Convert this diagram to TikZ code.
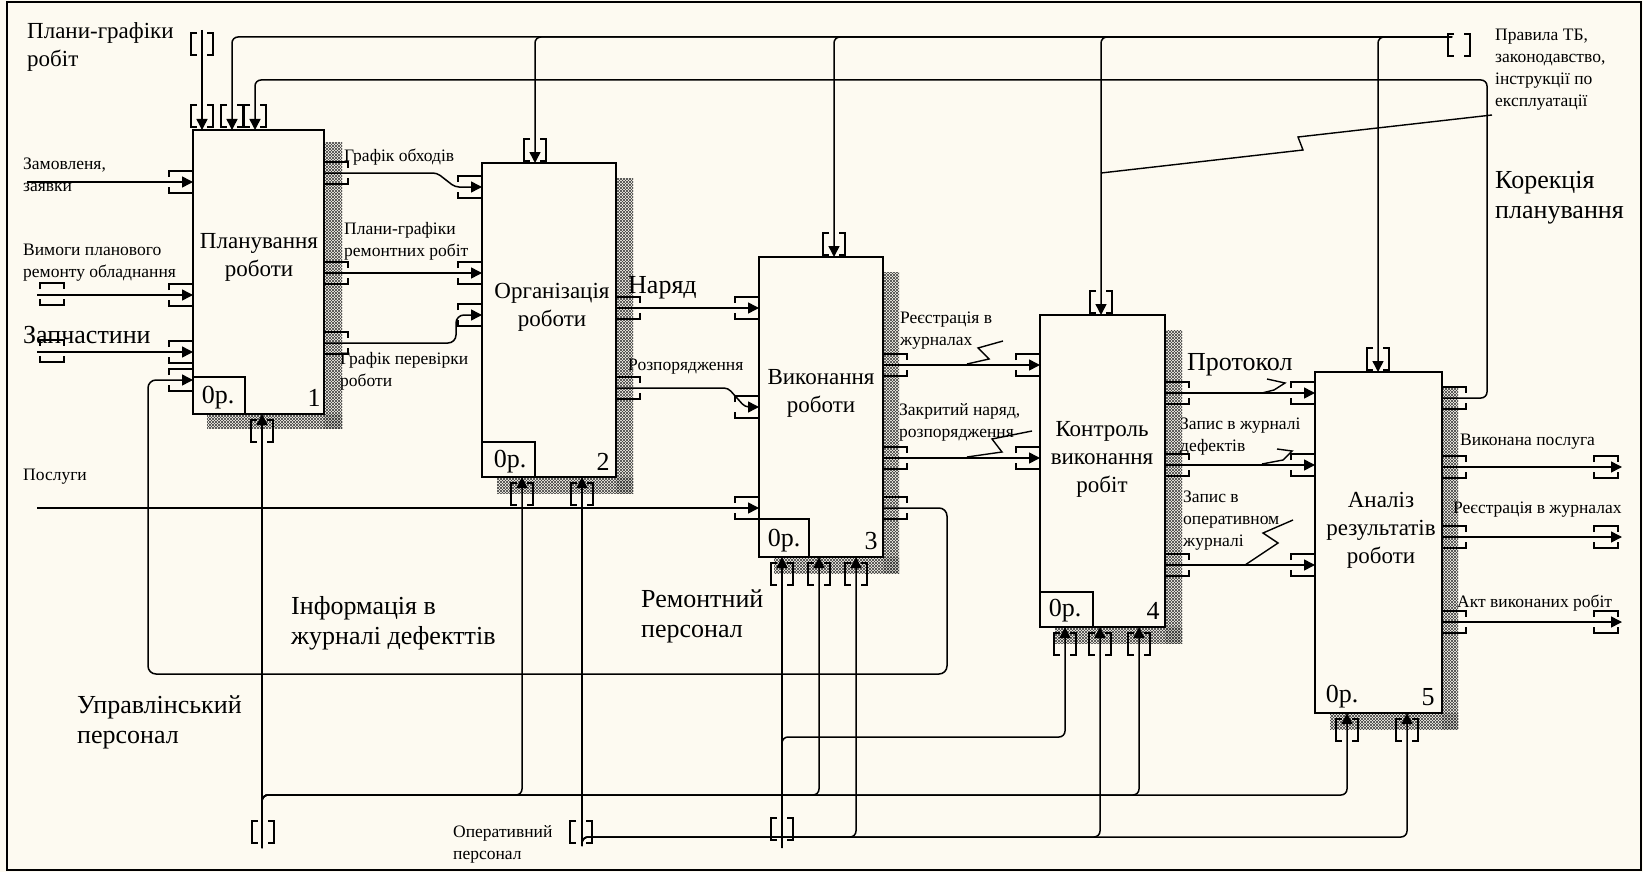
\documentclass[tikz,border=0pt]{standalone}
\usepackage{fontspec}
\setmainfont{Liberation Serif}
\usetikzlibrary{arrows.meta,patterns}
\definecolor{bg}{HTML}{FDFAF1}
\newcommand{\fsS}{\fontsize{17.5}{22}\selectfont}
\newcommand{\fsM}{\fontsize{23}{28}\selectfont}
\newcommand{\fsL}{\fontsize{26}{30}\selectfont}
\begin{document}
\begin{tikzpicture}[x=1pt,y=-1pt,
  box/.style={draw,line width=2.6pt,fill=bg,inner sep=0,outer sep=0,anchor=north west},
  idbox/.style={line width=1.3pt},
  shadowfill/.style={pattern=north east lines,pattern color=black!75,
    postaction={pattern=north west lines,pattern color=black!75}},
  conn/.style={line width=1.5pt,rounded corners=6pt,-{Triangle[length=11pt,width=11pt]}},
  wire/.style={line width=1.5pt,rounded corners=6pt},
  brk/.style={line width=1.4pt},
  lead/.style={line width=1.4pt},
  lbS/.style={font=\fsS,inner sep=0,align=left,anchor=west},
  lbL/.style={font=\fsL,inner sep=0,align=left,anchor=west},
  lbM/.style={font=\fsM,inner sep=0,align=left,anchor=west},
  boxlbl/.style={font=\fsM,inner sep=0,align=center},
  numlbl/.style={font=\fsL,inner sep=0},
  brH/.pic={\draw[brk] (-12,-5) -- (-12,-11) -- (12,-11) -- (12,-5);
            \draw[brk] (-12,5) -- (-12,11) -- (12,11) -- (12,5);},
  brV/.pic={\draw[brk] (-5,-11) -- (-11,-11) -- (-11,11) -- (-5,11);
            \draw[brk] (5,-11) -- (11,-11) -- (11,11) -- (5,11);}
]
\useasboundingbox (0,0) rectangle (1643,872);
\fill[bg] (0,0) rectangle (1643,872);
\draw[line width=1.5pt] (7,2) rectangle (1641,870);

% shadows
\fill[shadowfill] (324,143) rectangle (342,428);
\fill[shadowfill] (207,414) rectangle (342,428);
\fill[shadowfill] (616,178) rectangle (633,493);
\fill[shadowfill] (497,477) rectangle (633,493);
\fill[shadowfill] (883,272) rectangle (899,573);
\fill[shadowfill] (774,557) rectangle (899,573);
\fill[shadowfill] (1165,330) rectangle (1182,643);
\fill[shadowfill] (1055,627) rectangle (1182,643);
\fill[shadowfill] (1442,388) rectangle (1458,729);
\fill[shadowfill] (1330,713) rectangle (1458,729);

% boxes
\node[box,minimum width=131pt,minimum height=284pt] (b1) at (193,130) {};
\node[box,minimum width=134pt,minimum height=314pt] (b2) at (482,163) {};
\node[box,minimum width=124pt,minimum height=300pt] (b3) at (759,257) {};
\node[box,minimum width=125pt,minimum height=312pt] (b4) at (1040,315) {};
\node[box,minimum width=127pt,minimum height=341pt] (b5) at (1315,372) {};
\draw[idbox] (b1.south west) rectangle (245,377);
\draw[idbox] (b2.south west) rectangle (535,442);
\draw[idbox] (b3.south west) rectangle (809,519);
\draw[idbox] (b4.south west) rectangle (1093,592);

\node[boxlbl] (t1) at (259,257) {Планування\\роботи};
\node[boxlbl] (t2) at (552,307) {Організація\\роботи};
\node[boxlbl] (t3) at (821,393) {Виконання\\роботи};
\node[boxlbl] (t4) at (1102,459) {Контроль\\виконання\\робіт};
\node[boxlbl] (t5) at (1381,530) {Аналіз\\результатів\\роботи};

\node[numlbl] (o1) at (218,398) {0р.};
\node[numlbl] (n1) at (314,398) {1};
\node[numlbl] (o2) at (510,462) {0р.};
\node[numlbl] (n2) at (603,462) {2};
\node[numlbl] (o3) at (784,541) {0р.};
\node[numlbl] (n3) at (871,541) {3};
\node[numlbl] (o4) at (1065,611) {0р.};
\node[numlbl] (n4) at (1153,611) {4};
\node[numlbl] (o5) at (1342,697) {0р.};
\node[numlbl] (n5) at (1428,697) {5};

% labels
\node[lbM] (lPlan) at (27,47) {Плани-графіки\\робіт};
\node[lbS] (lZam) at (23,175) {Замовленя,\\заявки};
\node[lbS] (lVym) at (23,263) {Вимоги планового\\ремонту обладнання};
\node[lbL] (lZap) at (23,335) {Запчастини};
\node[lbS] (lPos) at (23,477) {Послуги};
\node[lbS] (lGO) at (344,157) {Графік обходів};
\node[lbS] (lPGR) at (344,241) {Плани-графіки\\ремонтних робіт};
\node[lbS] (lGP) at (340,371) {Графік перевірки\\роботи};
\node[lbL] (lNar) at (628,288) {Наряд};
\node[lbS] (lRoz) at (628,367) {Розпорядження};
\node[lbS] (lReg) at (900,331) {Реєстрація в\\журналах};
\node[lbS] (lZak) at (899,422) {Закритий наряд,\\розпорядження};
\node[lbL] (lProt) at (1187,365) {Протокол};
\node[lbS] (lZD) at (1180,437) {Запис в журналі\\дефектів};
\node[lbS] (lZO) at (1183,521) {Запис в\\оперативном\\журналі};
\node[lbS] (lVyk) at (1460,442) {Виконана послуга};
\node[lbS] (lReg2) at (1453,510) {Реєстрація в журналах};
\node[lbS] (lAkt) at (1457,603) {Акт виконаних робіт};
\node[lbS] (lPrav) at (1495,70) {Правила ТБ,\\законодавство,\\інструкції по\\експлуатації};
\node[lbL] (lKor) at (1495,198) {Корекція\\планування};
\node[lbL] (lInf) at (291,623) {Інформація в\\журналі дефекттів};
\node[lbL] (lUpr) at (77,722) {Управлінський\\персонал};
\node[lbL] (lRem) at (641,616) {Ремонтний\\персонал};
\node[lbS] (lOper) at (453,844) {Оперативний\\персонал};

% free ends
\coordinate (sPlan) at (202,30);
\coordinate (sRule) at (1452,37);
\coordinate (sZam) at (27,182);
\coordinate (sVym) at (37,295);
\coordinate (sZap) at (37,352);
\coordinate (sPos) at (37,508);
\coordinate (sUpr) at (262,848);
\coordinate (sOper) at (582,846);
\coordinate (sRem) at (782,848);
\coordinate (oVyk) at (1622,467);
\coordinate (oReg) at (1622,537);
\coordinate (oAkt) at (1622,622);

% controls
\draw[conn] (sPlan) -- (sPlan |- b1.north);
\draw[conn] (sRule) -| (232,0 |- b1.north);
\draw[conn] (sRule) -| (535,0 |- b2.north);
\draw[conn] (sRule) -| (834,0 |- b3.north);
\draw[conn] (sRule) -| (1101,0 |- b4.north);
\draw[conn] (sRule) -| (1378,0 |- b5.north);
\draw[conn] (b5.east |- 0,398) -| (1487,80) -| (255,0 |- b1.north);

% inputs
\draw[conn] (sZam) -- (b1.west |- sZam);
\draw[conn] (sVym) -- (b1.west |- sVym);
\draw[conn] (sZap) -- (b1.west |- sZap);
\draw[conn,rounded corners=8pt] (b3.east |- 0,508) -| (947,674) -| (148,380) -- (b1.west |- 0,380);
\draw[conn] (sPos) -- (b3.west |- sPos);

% box to box
\draw[conn,rounded corners=4pt] (b1.east |- 0,173) -- (437,173) -- (455,187) -- (b2.west |- 0,187);
\draw[conn] (b1.east |- 0,273) -- (b2.west |- 0,273);
\draw[conn,rounded corners=8pt] (b1.east |- 0,343) -| (456,315) -- (b2.west |- 0,315);
\draw[conn] (b2.east |- 0,308) -- (b3.west |- 0,308);
\draw[conn,rounded corners=4pt] (b2.east |- 0,388) -- (728,388) -- (745,407) -- (b3.west |- 0,407);
\draw[conn] (b3.east |- 0,365) -- (b4.west |- 0,365);
\draw[conn] (b3.east |- 0,458) -- (b4.west |- 0,458);
\draw[conn] (b4.east |- 0,393) -- (b5.west |- 0,393);
\draw[conn] (b4.east |- 0,465) -- (b5.west |- 0,465);
\draw[conn] (b4.east |- 0,565) -- (b5.west |- 0,565);

% outputs
\draw[conn] (b5.east |- oVyk) -- (oVyk);
\draw[conn] (b5.east |- oReg) -- (oReg);
\draw[conn] (b5.east |- oAkt) -- (oAkt);

% mechanisms
\draw[conn] (sUpr) -- (sUpr |- b1.south);
\draw[conn] (sUpr) |- (522,795) -- (522,0 |- b2.south);
\draw[conn] (sUpr) |- (819,795) -- (819,0 |- b3.south);
\draw[conn] (sUpr) |- (1139,795) -- (1139,0 |- b4.south);
\draw[conn] (sUpr) |- (1347,795) -- (1347,0 |- b5.south);
\draw[conn] (sOper) -- (sOper |- b2.south);
\draw[conn] (sOper) |- (856,837) -- (856,0 |- b3.south);
\draw[conn] (sOper) |- (1100,837) -- (1100,0 |- b4.south);
\draw[conn] (sOper) |- (1407,837) -- (1407,0 |- b5.south);
\draw[conn] (sRem) -- (sRem |- b3.south);
\draw[conn] (sRem) |- (1065,737) -- (1065,0 |- b4.south);

% label leaders
\draw[lead] (1492,115) -- (1298,137) -- (1303,150) -- (1101,173);
\draw[lead] (1003,341) -- (978,348) -- (989,359) -- (967,364);
\draw[lead] (1032,431) -- (992,439) -- (1002,452) -- (967,457);
\draw[lead] (1267,379) -- (1285,383) -- (1274,390) -- (1262,393);
\draw[lead] (1277,449) -- (1292,451) -- (1283,460) -- (1262,464);
\draw[lead] (1293,520) -- (1263,533) -- (1278,543) -- (1245,565);

% tunnel brackets
\foreach \x in {202,232,255} \pic at (\x,116) {brV};
\pic at (535,150) {brV};
\pic at (834,244) {brV};
\pic at (1101,302) {brV};
\pic at (1378,359) {brV};
\pic at (262,431) {brV};
\foreach \x in {522,582} \pic at (\x,494) {brV};
\foreach \x in {782,819,856} \pic at (\x,574) {brV};
\foreach \x in {1065,1100,1139} \pic at (\x,644) {brV};
\foreach \x in {1347,1407} \pic at (\x,730) {brV};
\foreach \y in {182,295,352,380} \pic at (181,\y) {brH};
\foreach \y in {187,273,315} \pic at (470,\y) {brH};
\foreach \y in {308,407,508} \pic at (747,\y) {brH};
\foreach \y in {365,458} \pic at (1028,\y) {brH};
\foreach \y in {393,465,565} \pic at (1303,\y) {brH};
\foreach \y in {173,273,343} \pic at (336,\y) {brH};
\foreach \y in {308,388} \pic at (628,\y) {brH};
\foreach \y in {365,458,508} \pic at (895,\y) {brH};
\foreach \y in {393,465,565} \pic at (1177,\y) {brH};
\foreach \y in {398,467,537,622} \pic at (1454,\y) {brH};
\foreach \y in {467,537,622} \pic at (1606,\y) {brH};
\pic at (202,44) {brV};
\pic at (1459,45) {brV};
\pic at (52,294) {brH};
\pic at (52,351) {brH};
\pic at (263,832) {brV};
\pic at (581,832) {brV};
\pic at (782,829) {brV};
\end{tikzpicture}
\end{document}
